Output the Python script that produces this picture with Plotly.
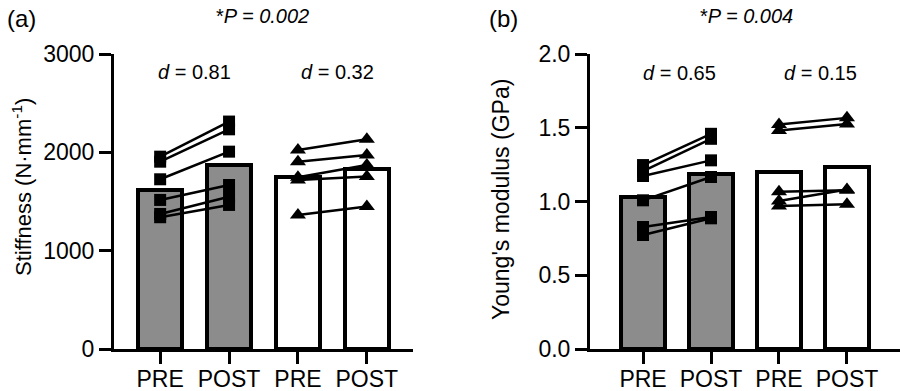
import plotly.graph_objects as go

# ---------------- data ----------------
categories = ["PRE", "POST", "PRE", "POST"]

# Panel (a) Stiffness (N·mm-1)
stiff_bars = [1620, 1872, 1746, 1828]
stiff_g1_pre = [1956, 1905, 1726, 1516, 1373, 1340]
stiff_g1_post = [2313, 2234, 2007, 1668, 1549, 1465]
stiff_g2_pre = [2024, 1905, 1746, 1719, 1363]
stiff_g2_post = [2133, 1973, 1872, 1753, 1448]

# Panel (b) Young's modulus (GPa)
ym_bars = [1.03, 1.184, 1.202, 1.233]
ym_g1_pre = [1.247, 1.206, 1.173, 1.008, 0.827, 0.773]
ym_g1_post = [1.459, 1.425, 1.279, 1.166, 0.895, 0.886]
ym_g2_pre = [1.522, 1.482, 1.066, 1.003, 0.970]
ym_g2_post = [1.567, 1.526, 1.076, 1.081, 0.981]

p_labels = ["*<i>P = 0.002</i>", "*<i>P = 0.004</i>"]
d_labels_a = ["<i>d</i> = 0.81", "<i>d</i> = 0.32"]
d_labels_b = ["<i>d</i> = 0.65", "<i>d</i> = 0.15"]

# ---------------- styling ----------------
W, H = 900, 391
FONT = "Liberation Sans, Arial, sans-serif"
GRAY = "#8c8c8c"


def px(x):
    return x / W


def py(y):
    return 1 - y / H


def paired(pre, post, xpre, xpost):
    xs, ys = [], []
    for a, b in zip(pre, post):
        xs += [xpre, xpost, None]
        ys += [a, b, None]
    return xs, ys


fig = go.Figure()

panels = [
    ("x", "y", stiff_bars, stiff_g1_pre, stiff_g1_post, stiff_g2_pre, stiff_g2_post),
    ("x2", "y2", ym_bars, ym_g1_pre, ym_g1_post, ym_g2_pre, ym_g2_post),
]

for xa, ya, bars, g1pre, g1post, g2pre, g2post in panels:
    fig.add_trace(go.Bar(
        x=[0, 1, 2, 3], y=bars, width=0.64,
        marker=dict(color=[GRAY, GRAY, "white", "white"],
                    line=dict(color="black", width=4)),
        xaxis=xa, yaxis=ya, showlegend=False, hoverinfo="skip"))
    xs, ys = paired(g1pre, g1post, 0, 1)
    fig.add_trace(go.Scatter(
        x=xs, y=ys, mode="lines+markers",
        line=dict(color="black", width=2.5),
        marker=dict(symbol="square", size=12, color="black"),
        xaxis=xa, yaxis=ya, showlegend=False, cliponaxis=False))
    xs, ys = paired(g2pre, g2post, 2, 3)
    fig.add_trace(go.Scatter(
        x=xs, y=ys, mode="lines+markers",
        line=dict(color="black", width=2.5),
        marker=dict(symbol="triangle-up", size=14, color="black"),
        xaxis=xa, yaxis=ya, showlegend=False, cliponaxis=False))

axis_common = dict(showgrid=False, zeroline=False, showline=True,
                   automargin=False,
                   linecolor="black", linewidth=3, ticks="outside",
                   tickcolor="black", tickwidth=3, ticklen=12,
                   tickfont=dict(family=FONT, size=23, color="black"))

ydom = [py(349), py(54)]

fig.update_layout(
    width=W, height=H,
    margin=dict(l=0, r=0, t=0, b=0, pad=0),
    paper_bgcolor="white", plot_bgcolor="white",
    bargap=0,
    xaxis=dict(domain=[px(114), px(413)], range=[-0.67, 3.67],
               tickvals=[0, 1, 2, 3], ticktext=categories, anchor="y",
               ticklabelstandoff=-5, **axis_common),
    yaxis=dict(domain=ydom, range=[0, 3000], tickvals=[0, 1000, 2000, 3000],
               anchor="x", **axis_common),
    xaxis2=dict(domain=[px(590), 1.0], range=[-0.78, 3.78],
                tickvals=[0, 1, 2, 3], ticktext=categories, anchor="y2",
                ticklabelstandoff=-5, **axis_common),
    yaxis2=dict(domain=ydom, range=[0, 2.0], tickvals=[0, 0.5, 1.0, 1.5, 2.0],
                tickformat=".1f", anchor="x2", **axis_common),
)

ann = []


def add_text(text, x, y, size, angle=0):
    ann.append(dict(text=text, x=px(x), y=py(y), xref="paper", yref="paper",
                    showarrow=False, textangle=angle,
                    font=dict(family=FONT, size=size, color="black"),
                    xanchor="center", yanchor="middle"))


add_text("(a)", 21, 18, 24)
add_text("(b)", 503, 18, 24)
add_text(p_labels[0], 262, 16, 20)
add_text(p_labels[1], 746, 16, 20)
add_text(d_labels_a[0], 194, 72, 20)
add_text(d_labels_a[1], 337, 72, 20)
add_text(d_labels_b[0], 679, 73, 20)
add_text(d_labels_b[1], 820, 73, 20)
add_text("Stiffness (N·mm<sup>-1</sup>)", 22, 187, 22, -90)
add_text("Young's modulus (GPa)", 501, 200, 23, -90)

fig.update_layout(annotations=ann)

post = (
    "var d=document.getElementById('{plot_id}');"
    "d.style.position='fixed';d.style.top='0px';d.style.left='0px';"
    "document.documentElement.style.margin='0';"
    "document.documentElement.style.overflow='hidden';"
    "document.body.style.margin='0';"
    "document.body.style.overflow='hidden';"
)

fig.write_html(
    "out.html",
    config={"displayModeBar": False},
    post_script=post,
)
